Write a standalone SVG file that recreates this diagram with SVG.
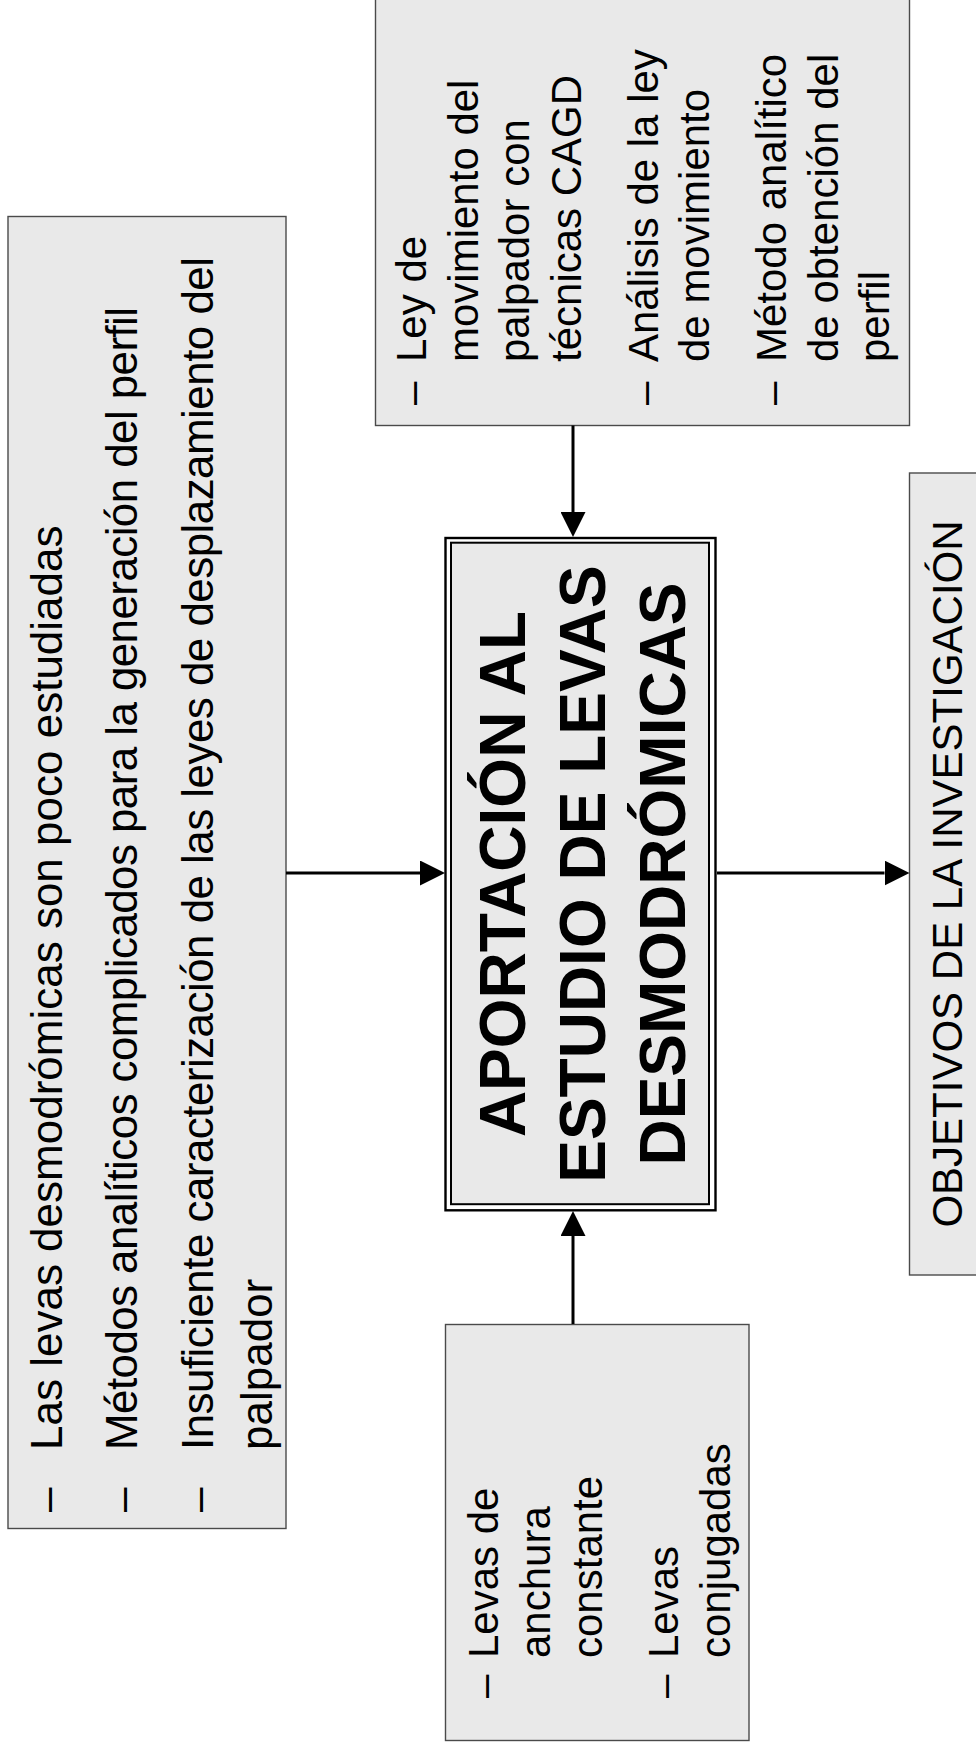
<svg xmlns="http://www.w3.org/2000/svg" width="976" height="1753" viewBox="0 0 976 1753">
  <style>
    .box { fill: #e9e9e9; stroke: #4a4a4a; stroke-width: 1.4; }
    .txt { font-family: "Liberation Sans", Arial, sans-serif; fill: #000; }
    .t44 { font-size: 44px; }
    .t42 { font-size: 42px; }
    .title { font-size: 64px; font-weight: bold; text-anchor: middle; }
    .mid { text-anchor: middle; }
    .conn { stroke: #000; stroke-width: 3; fill: none; marker-end: url(#ah); }
  </style>
  <defs>
    <marker id="ah" viewBox="0 0 25 25" markerWidth="25" markerHeight="25" refX="0" refY="12.5" orient="auto" markerUnits="userSpaceOnUse">
      <path d="M0,0 L25,12.5 L0,25 z" fill="#000"/>
    </marker>
  </defs>
  <rect width="976" height="1753" fill="#fff"/>

  <!-- problems with the current state -->
  <g id="node-problemas">
    <rect class="box" x="8" y="216.5" width="278" height="1312"/>
    <g class="txt t44" transform="rotate(-90)">
      <text x="-1512" y="62">–</text>
      <text x="-1450" y="62">Las levas desmodrómicas son poco estudiadas</text>
      <text x="-1512" y="137">–</text>
      <text x="-1450" y="137" textLength="1143" lengthAdjust="spacing">Métodos analíticos complicados para la generación del perfil</text>
      <text x="-1512" y="213">–</text>
      <text x="-1450" y="213" textLength="1193" lengthAdjust="spacing">Insuficiente caracterización de las leyes de desplazamiento del</text>
      <text x="-1450" y="272">palpador</text>
    </g>
  </g>

  <!-- contributions -->
  <g id="node-aportaciones">
    <rect class="box" x="375.5" y="-10" width="534" height="435.5"/>
    <g class="txt t42" transform="rotate(-90)">
      <text x="-405" y="426">–</text>
      <text x="-362" y="426">Ley de</text>
      <text x="-362" y="477.5">movimiento del</text>
      <text x="-362" y="529">palpador con</text>
      <text x="-362" y="580.5">técnicas CAGD</text>
      <text x="-405" y="657.5">–</text>
      <text x="-362" y="657.5">Análisis de la ley</text>
      <text x="-362" y="709">de movimiento</text>
      <text x="-405" y="786">–</text>
      <text x="-362" y="786">Método analítico</text>
      <text x="-362" y="837.5">de obtención del</text>
      <text x="-362" y="889">perfil</text>
    </g>
  </g>

  <!-- central topic -->
  <g id="node-central">
    <rect x="445.5" y="538" width="270" height="672.3" fill="#fff" stroke="#000" stroke-width="2.4"/>
    <rect x="451" y="542.7" width="258" height="661.5" fill="#e9e9e9" stroke="#000" stroke-width="2"/>
    <g class="txt title" transform="rotate(-90)">
      <text x="-874" y="525">APORTACIÓN AL</text>
      <text x="-874" y="605">ESTUDIO DE LEVAS</text>
      <text x="-874" y="685">DESMODRÓMICAS</text>
    </g>
  </g>

  <!-- cam types -->
  <g id="node-tipos">
    <rect class="box" x="445.5" y="1324.5" width="303.5" height="416"/>
    <g class="txt t42" transform="rotate(-90)">
      <text x="-1698" y="498">–</text>
      <text x="-1658" y="498">Levas de</text>
      <text x="-1658" y="550">anchura</text>
      <text x="-1658" y="602">constante</text>
      <text x="-1698" y="678">–</text>
      <text x="-1658" y="678">Levas</text>
      <text x="-1658" y="730">conjugadas</text>
    </g>
  </g>

  <!-- research goals -->
  <g id="node-objetivos">
    <rect class="box" x="909.5" y="473" width="80" height="802"/>
    <g class="txt t42 mid" transform="rotate(-90)">
      <text x="-874" y="962">OBJETIVOS DE LA INVESTIGACIÓN</text>
    </g>
  </g>

  <!-- connectors -->
  <g id="connectors">
    <path class="conn" d="M286,873 H420"/>
    <path class="conn" d="M573,425.5 V512"/>
    <path class="conn" d="M573,1324 V1236"/>
    <path class="conn" d="M717,873 H884.5"/>
  </g>
</svg>
